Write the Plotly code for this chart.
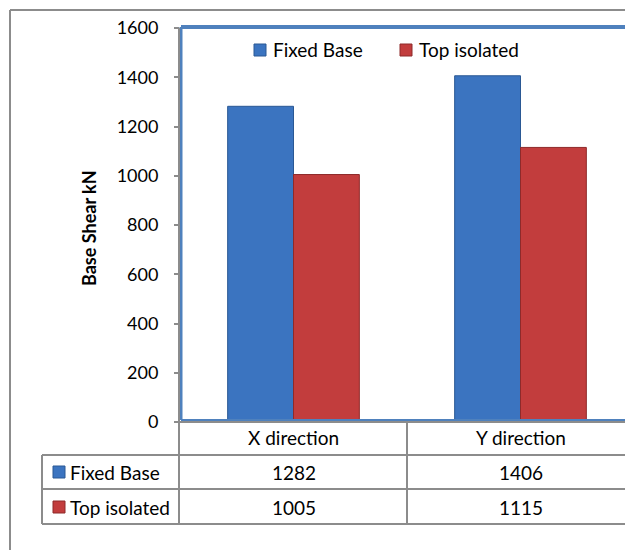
import plotly.graph_objects as go

# ---- data ----
categories = ["X direction", "Y direction"]
series_names = ["Fixed Base", "Top isolated"]
fixed_base = [1282, 1406]
top_isolated = [1005, 1115]
y_ticks = [0, 200, 400, 600, 800, 1000, 1200, 1400, 1600]
y_title = "Base Shear kN"

# ---- style ----
FONT = "Lato"
FS = 19
TFS = 18
BLUE = "#3B74C0"
BLUE_EDGE = "#2A5894"
RED = "#C23D3D"
RED_EDGE = "#8E2A2A"
GRAY = "#8C8C8C"
BORDER_BLUE = "#4F81BD"

W, H = 625, 550
PL, PR, PT, PB = 180, 625, 28, 422   # plot area in pixels


def xp(px):
    return (px - PL) / (PR - PL)


def yp(py):
    return (PB - py) / (PB - PT)


fig = go.Figure()
fig.add_trace(go.Bar(x=categories, y=fixed_base, name=series_names[0],
                     marker=dict(color=BLUE, line=dict(color=BLUE_EDGE, width=1))))
fig.add_trace(go.Bar(x=categories, y=top_isolated, name=series_names[1],
                     marker=dict(color=RED, line=dict(color=RED_EDGE, width=1))))

shapes = []


def line(x0, y0, x1, y1, color=GRAY, width=2):
    shapes.append(dict(type="line", xref="paper", yref="paper",
                       x0=xp(x0), y0=yp(y0), x1=xp(x1), y1=yp(y1),
                       line=dict(color=color, width=width), layer="above"))


def square(x0, y0, size, fill, edge):
    shapes.append(dict(type="rect", xref="paper", yref="paper",
                       x0=xp(x0), y0=yp(y0), x1=xp(x0 + size), y1=yp(y0 + size),
                       fillcolor=fill, line=dict(color=edge, width=1), layer="above"))


# outer chart border (top, left)
line(10, 10, 630, 10)
line(10, 10, 10, 560)

# blue plot-area border
line(181, 27, 630, 27, BORDER_BLUE, 4)
line(181, 27, 181, 420, BORDER_BLUE, 3)
line(181, 420, 630, 420, BORDER_BLUE, 2)

# y axis line continuing into table
line(179, 28, 179, 524)
# table lines
line(179, 422, 630, 422)
line(42, 455, 630, 455)
line(42, 489, 630, 489)
line(42, 524, 630, 524)
line(42, 455, 42, 524)
line(407, 422, 407, 524)

annotations = []

# top legend
legend_items = [(254, series_names[0], BLUE, BLUE_EDGE), (400, series_names[1], RED, RED_EDGE)]
for x0, name, fill, edge in legend_items:
    square(x0, 44, 12, fill, edge)
    annotations.append(dict(xref="paper", yref="paper", x=xp(x0 + 17), y=yp(50),
                            text=name, showarrow=False, xanchor="left", yanchor="middle",
                            font=dict(family=FONT, size=FS, color="black")))

# y title
annotations.append(dict(xref="paper", yref="paper", x=xp(89), y=yp(228),
                        text="<b>%s</b>" % y_title, textangle=-90, showarrow=False,
                        xanchor="center", yanchor="middle",
                        font=dict(family=FONT, size=TFS, color="black")))

# table header
for c in categories:
    annotations.append(dict(xref="x", yref="paper", x=c, y=yp(438), text=c,
                            showarrow=False, xanchor="center", yanchor="middle",
                            font=dict(family=FONT, size=FS, color="black")))

# table rows
rows = [(472, series_names[0], fixed_base, BLUE, BLUE_EDGE),
        (507, series_names[1], top_isolated, RED, RED_EDGE)]
for yc, name, vals, fill, edge in rows:
    square(53, yc - 6, 12, fill, edge)
    annotations.append(dict(xref="paper", yref="paper", x=xp(68), y=yp(yc), text=name,
                            showarrow=False, xanchor="left", yanchor="middle",
                            font=dict(family=FONT, size=FS, color="black")))
    for c, v in zip(categories, vals):
        annotations.append(dict(xref="x", yref="paper", x=c, y=yp(yc), text=str(v),
                                showarrow=False, xanchor="center", yanchor="middle",
                                font=dict(family=FONT, size=FS, color="black")))

fig.update_layout(
    width=W, height=H,
    margin=dict(l=PL, r=W - PR, t=PT, b=H - PB, autoexpand=False),
    paper_bgcolor="white", plot_bgcolor="white",
    barmode="group", bargap=0.42, bargroupgap=0,
    showlegend=False,
    shapes=shapes, annotations=annotations,
    font=dict(family=FONT, size=FS, color="black"),
    xaxis=dict(range=[-0.5, -0.5 + (PR - PL) / 227.0], showticklabels=False,
               showline=False, showgrid=False, zeroline=False, ticks=""),
    yaxis=dict(range=[0, 1600], tickvals=y_ticks, showgrid=False, zeroline=False,
               showline=False, ticks="outside", ticklen=5, tickcolor=GRAY, tickwidth=1.5,
               ticklabelstandoff=12, tickfont=dict(family=FONT, size=TFS, color="black")),
)

fig.write_html("out.html",
               config={"displayModeBar": False},
               post_script="document.body.style.margin='0';document.body.style.overflow='hidden';")
